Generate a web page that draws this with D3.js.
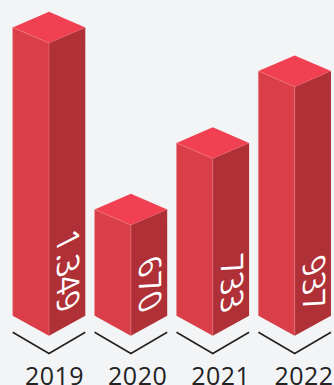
<!DOCTYPE html>
<html>
<head>
<meta charset="utf-8">
<script src="https://cdn.jsdelivr.net/npm/d3@7"></script>
<style>
  html, body { margin: 0; padding: 0; background: #f3f4f6; }
  svg { display: block; }
</style>
</head>
<body>
<svg id="chart" width="334" height="385"></svg>
<script>
// Yearly totals shown as isometric columns.
const years = ["2019", "2020", "2021", "2022"];
const values = [1349, 670, 733, 937];
const valueLabels = ["1.349", "670", "733", "937"];

const W = 334, H = 385;
const svg = d3.select("#chart").attr("viewBox", [0, 0, W, H]);

// Column centres (the front vertical edge of each box).
const x = d3.scalePoint().domain(years).range([49, 294.7]);
// Year captions sit slightly further right than the columns and spread wider.
const xLabel = d3.scalePoint().domain(years).range([54.5, 304]);

// The columns follow a stepped, non-proportional height scale: y of the front top corner.
const y = d3.scaleLinear()
  .domain([670, 733, 937, 1349])
  .range([225, 158.5, 86.7, 43]);

const halfW = 36.3;   // half of a column's horizontal span
const rise = 15.6;    // vertical offset of the isometric top face
const baseY = 335.7;  // bottom of the front edge
const baseRise = 20;  // vertical offset of the base corners
const faceSlope = 0.5; // shear that lays the value text on the right face

const line = d3.line();
const bars = svg.selectAll("g.bar")
  .data(years.map((year, i) => ({ year, value: values[i], label: valueLabels[i] })))
  .join("g")
  .attr("class", "bar");

// Left face
bars.append("path")
  .attr("fill", "#da3e48")
  .attr("d", d => {
    const cx = x(d.year), t = y(d.value);
    return line([[cx - halfW, t - rise], [cx, t], [cx, baseY], [cx - halfW, baseY - baseRise]]) + "Z";
  });

// Right face
bars.append("path")
  .attr("fill", "#b03037")
  .attr("d", d => {
    const cx = x(d.year), t = y(d.value);
    return line([[cx + halfW, t - rise], [cx, t], [cx, baseY], [cx + halfW, baseY - baseRise]]) + "Z";
  });

// Top face
bars.append("path")
  .attr("fill", "#f14051")
  .attr("d", d => {
    const cx = x(d.year), t = y(d.value);
    return line([[cx, t - 2 * rise], [cx + halfW, t - rise], [cx, t], [cx - halfW, t - rise]]) + "Z";
  });

// Pale highlights along the box edges
bars.append("path")
  .attr("fill", "none")
  .attr("stroke", "#f08088")
  .attr("stroke-opacity", 0.6)
  .attr("stroke-width", 0.8)
  .attr("d", d => {
    const cx = x(d.year), t = y(d.value);
    return line([[cx - halfW, baseY - baseRise], [cx - halfW, t - rise], [cx, t], [cx, baseY]]);
  });

// Value written downward and sheared onto the right face
bars.append("text")
  .attr("transform", d => `matrix(0,1,-1,${faceSlope},${x(d.year) + 8},316)`)
  .attr("text-anchor", "end")
  .attr("fill", "#ffffff")
  .attr("font-family", "'Open Sans', sans-serif")
  .attr("font-size", 31)
  .text(d => d.label);

// Chevron under each column
bars.append("path")
  .attr("fill", "none")
  .attr("stroke", "#222222")
  .attr("stroke-width", 1.6)
  .attr("d", d => {
    const cx = x(d.year);
    return line([[cx - halfW, 332.3], [cx, 353.5], [cx + halfW, 332.3]]);
  });

// Year label
bars.append("text")
  .attr("x", d => xLabel(d.year))
  .attr("y", 384.5)
  .attr("text-anchor", "middle")
  .attr("fill", "#222222")
  .attr("font-family", "'Open Sans', sans-serif")
  .attr("font-size", 25)
  .attr("letter-spacing", 0.5)
  .text(d => d.year);
</script>
</body>
</html>
